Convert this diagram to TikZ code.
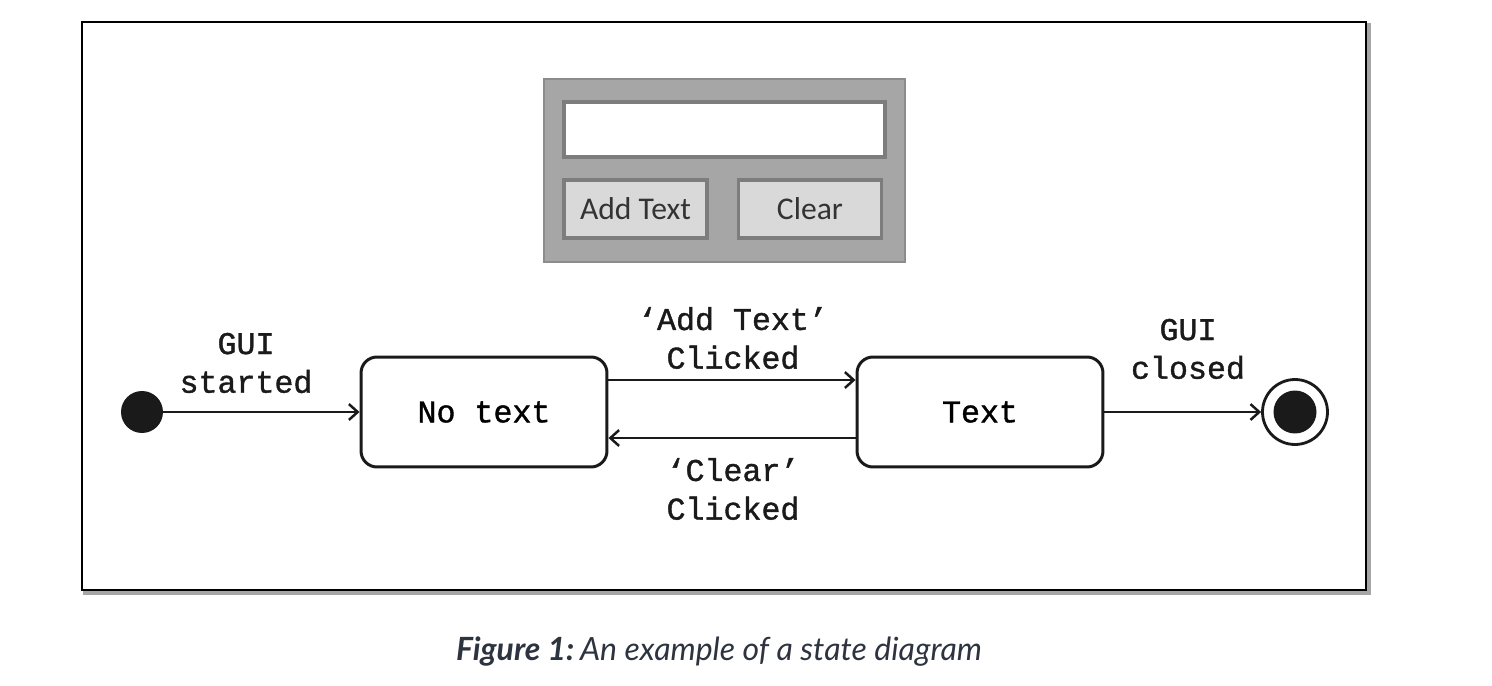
\documentclass[tikz,border=0pt]{standalone}
\usepackage{fontspec}
\setmonofont[FakeBold=1.2,AutoFakeBold=1.2]{Liberation Mono}
\newfontfamily\guifont{Carlito}
\newfontfamily\capfont{Lato}
\usetikzlibrary{arrows.meta,calc,positioning}
\definecolor{PanelGray}{RGB}{166,166,166}
\definecolor{PanelEdge}{RGB}{140,140,140}
\definecolor{FieldEdge}{RGB}{125,125,125}
\definecolor{ButtonFill}{RGB}{217,217,217}
\definecolor{InkDark}{RGB}{26,26,26}
\definecolor{CaptionInk}{RGB}{45,52,64}
\tikzset{
  statebox/.style={draw=InkDark,line width=1.7pt,rounded corners=0.32cm,
    minimum width=4.92cm,minimum height=2.2cm,font=\ttfamily\bfseries\fontsize{18}{22}\selectfont},
  trans/.style={draw=InkDark,line width=1.6pt,-{Straight Barb[length=5pt,width=9pt,line width=1.4pt]}},
  translabel/.style={align=center,font=\ttfamily\bfseries\fontsize{18}{22}\selectfont,text=InkDark},
  guibutton/.style={draw=FieldEdge,line width=1.8pt,fill=ButtonFill,
    minimum width=2.86cm,minimum height=1.16cm,font=\guifont\fontsize{18}{20}\selectfont,text=black!80}
}
\begin{document}
\begin{tikzpicture}[x=0.02cm,y=-0.02cm]
\useasboundingbox (0,0) rectangle (1492,686);
% frame
\draw[black!35,line width=2pt] (85,25) rectangle (1369,593);
\draw[black,line width=1.6pt,fill=white] (82,22) rectangle (1366,590);
% gui mock-up
\draw[fill=PanelGray,draw=PanelEdge,line width=1pt] (544,79) rectangle (905,262);
\draw[fill=white,draw=FieldEdge,line width=1.8pt] (564,102) rectangle (885,157);
\node[guibutton] (addbtn) at (635.5,209) {Add Text};
\node[guibutton] (clearbtn) at (810,209) {Clear};
% states
\node[circle,fill=InkDark,minimum size=0.84cm,inner sep=0pt] (init) at (142,412) {};
\node[statebox] (notext) at (484,412) {No text};
\node[statebox] (text) at (980,412) {Text};
\node[circle,draw=InkDark,line width=1.6pt,minimum size=1.3cm,inner sep=0pt] (final) at (1295,412) {};
\node[circle,fill=InkDark,minimum size=0.86cm,inner sep=0pt] at (final.center) {};
% transitions
\draw[trans] (init) -- (notext);
\draw[trans] ($(notext.east)+(0,-32)$) -- ($(text.west)+(0,-32)$);
\draw[trans] ($(text.west)+(0,26)$) -- ($(notext.east)+(0,26)$);
\draw[trans] (text) -- (final);
\node[translabel] (lstart) at (246,363) {GUI\\started};
\node[translabel] (ladd) at (733,338) {‘Add Text’\\Clicked};
\node[translabel] (lclear) at (733,489) {‘Clear’\\Clicked};
\node[translabel] (lclose) at (1188,349) {GUI\\closed};
% caption
\node[text=CaptionInk,font=\capfont\fontsize{18.2}{22}\selectfont] (caption) at (719,652)
  {\textbf{\textit{Figure 1:}}\hspace{0.18em}\textit{An example of a state diagram}};
\end{tikzpicture}
\end{document}
